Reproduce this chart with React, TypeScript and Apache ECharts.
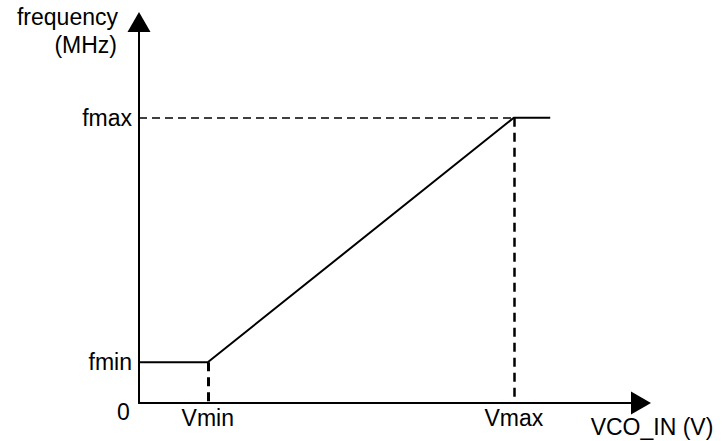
import React, { useEffect, useRef } from 'react';
import * as echarts from 'echarts';

// Axis tick labels (concept chart: arbitrary units)
const xTickNames = ['Vmin', 'Vmax'];
const xTickValues = [1, 5.45];
const yTickNames = ['fmin', 'fmax'];
const yTickValues = [1, 7];

// VCO transfer curve
const curveV = [0, 1, 5.45, 5.98];
const curveF = [1, 1, 7, 7];

const X_MAX = 7.3;
const Y_MAX = 9.35;

const FONT = 'Liberation Sans, Arial, sans-serif';
const FS = 23;

export default function App() {
  const ref = useRef<HTMLDivElement>(null);

  useEffect(() => {
    document.body.style.margin = '0';
    if (!ref.current) return;
    const chart = echarts.init(ref.current, undefined, { renderer: 'svg' });

    const curve = curveV.map((v, i) => [v, curveF[i]]);
    const vmin = xTickValues[0];
    const vmax = xTickValues[1];
    const fmin = yTickValues[0];
    const fmax = yTickValues[1];

    const axisLine = (symbol: string) => ({
      show: true,
      symbol: ['none', symbol],
      symbolSize: [23, 20],
      lineStyle: { color: '#000', width: 2 },
    });

    chart.setOption({
      animation: false,
      backgroundColor: '#fff',
      grid: { left: 139, top: 22, width: 502, height: 381 },
      xAxis: {
        type: 'value',
        min: 0,
        max: X_MAX,
        splitLine: { show: false },
        axisTick: { show: false },
        axisLine: axisLine('triangle'),
        axisLabel: {
          customValues: xTickValues,
          formatter: (v: number) => {
            const i = xTickValues.indexOf(v);
            return i >= 0 ? xTickNames[i] : '';
          },
          color: '#000',
          fontSize: FS,
          fontFamily: FONT,
          margin: 3,
        },
      },
      yAxis: {
        type: 'value',
        min: 0,
        max: Y_MAX,
        splitLine: { show: false },
        axisTick: { show: false },
        axisLine: axisLine('triangle'),
        axisLabel: {
          customValues: yTickValues,
          formatter: (v: number) => {
            const i = yTickValues.indexOf(v);
            return i >= 0 ? yTickNames[i] : '';
          },
          color: '#000',
          fontSize: FS,
          fontFamily: FONT,
          margin: 7,
          padding: [0, 0, 7, 0],
        },
      },
      series: [
        {
          type: 'line',
          data: curve,
          showSymbol: false,
          symbol: 'none',
          lineStyle: { color: '#000', width: 2 },
          z: 3,
          markLine: {
            silent: true,
            symbol: ['none', 'none'],
            label: { show: false },
            data: [
              [
                { coord: [0, fmax], lineStyle: { color: '#000', width: 1.5, type: [8, 5] } },
                { coord: [vmax, fmax] },
              ],
              [
                { coord: [vmax, fmax], lineStyle: { color: '#000', width: 2.5, type: [9, 6] } },
                { coord: [vmax, 0] },
              ],
              [
                { coord: [vmin, fmin], lineStyle: { color: '#000', width: 3, type: [9, 6] } },
                { coord: [vmin, 0] },
              ],
            ],
          },
        },
      ],
      graphic: [
        {
          type: 'text',
          x: 118,
          y: 17,
          style: { text: 'frequency', font: `${FS}px ${FONT}`, fill: '#000', align: 'right', verticalAlign: 'middle', textAlign: 'right', textVerticalAlign: 'middle' },
        },
        {
          type: 'text',
          x: 117,
          y: 45,
          style: { text: '(MHz)', font: `${FS}px ${FONT}`, fill: '#000', align: 'right', verticalAlign: 'middle', textAlign: 'right', textVerticalAlign: 'middle' },
        },
        {
          type: 'text',
          x: 123.5,
          y: 412,
          style: { text: '0', font: `${FS}px ${FONT}`, fill: '#000', align: 'center', verticalAlign: 'middle', textAlign: 'center', textVerticalAlign: 'middle' },
        },
        {
          type: 'text',
          x: 652,
          y: 427,
          style: { text: 'VCO_IN (V)', font: `${FS}px ${FONT}`, fill: '#000', align: 'center', verticalAlign: 'middle', textAlign: 'center', textVerticalAlign: 'middle' },
        },
      ],
    });

    return () => chart.dispose();
  }, []);

  return <div ref={ref} style={{ width: 726, height: 441 }} />;
}
